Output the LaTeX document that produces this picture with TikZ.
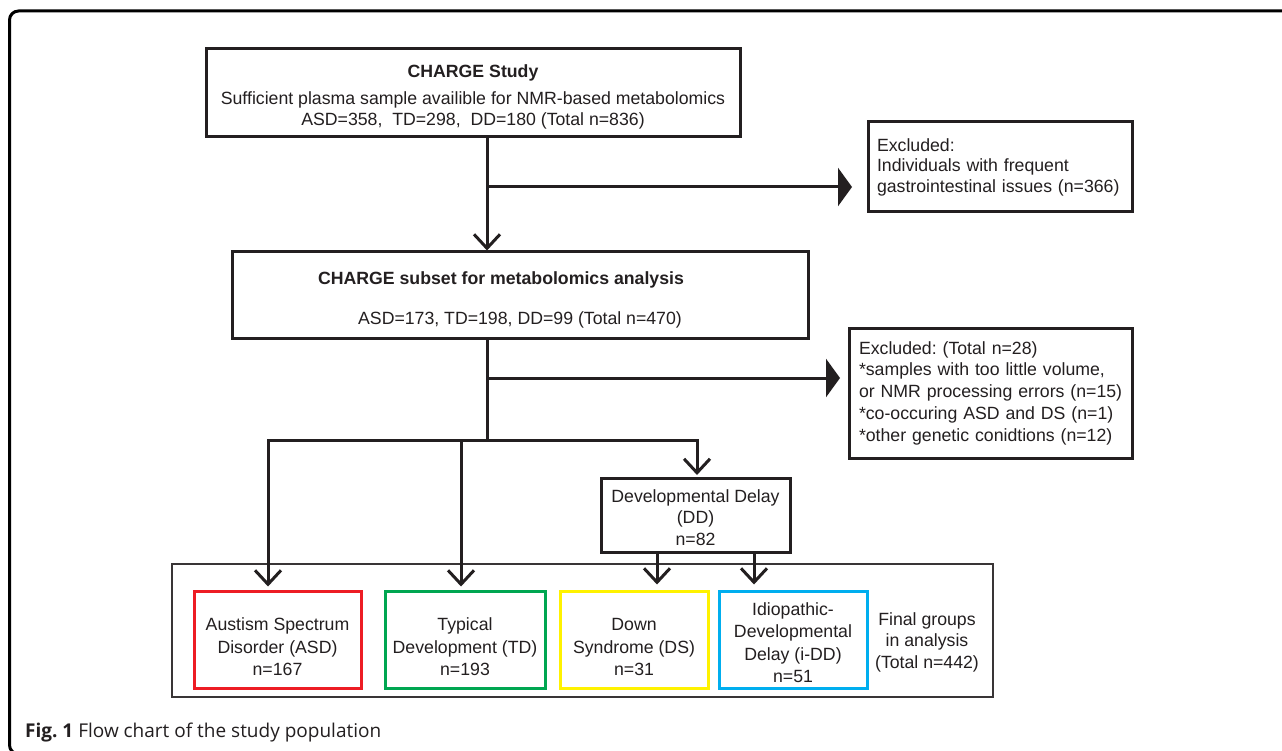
\documentclass[tikz,border=0pt]{standalone}
\usepackage{fontspec}
\setmainfont{Liberation Sans}
\newfontfamily\capfont{Open Sans}
\usetikzlibrary{arrows.meta}
\definecolor{ink}{HTML}{231F20}
\definecolor{cred}{HTML}{ED1C24}
\definecolor{cgreen}{HTML}{00A651}
\definecolor{cyellow}{HTML}{FFF200}
\definecolor{cblue}{HTML}{00AEEF}
\frenchspacing
\newcommand{\upstrut}[1]{\rule{0pt}{#1}}
\begin{document}
\begin{tikzpicture}[x=1pt,y=-1pt,
  every node/.style={font=\fontsize{17.7pt}{21.5pt}\selectfont, text=ink},
  ln/.style={draw=ink, line width=3pt},
  openarr/.style={ln, -{Straight Barb[length=14pt,width=26pt]}},
  fillarr/.style={ln, -{Triangle[length=14pt,width=38pt]}},
  bx/.style={draw=ink, line width=3pt, rectangle, inner sep=0pt, align=center},
  cbx/.style={draw=#1, line width=3pt, rectangle, inner sep=0pt, align=center, minimum height=97pt,
    font=\fontsize{17.7pt}{22.5pt}\selectfont},
  exbx/.style={draw=ink, line width=3pt, rectangle, inner ysep=0pt, align=left}
]
\useasboundingbox (0,0) rectangle (1282,751);
\fill[white] (0,0) rectangle (1282,751);
\begin{scope}
\clip (0,0) rectangle (1282,751);
\draw[line width=3pt, rounded corners=9pt] (9.5,11) rectangle (1320,754);
\end{scope}

% container
\node[draw=ink!90, line width=2pt, rectangle, minimum width=821pt, minimum height=133pt] (ct) at (582.5,630.5) {};

% main boxes
\node[bx, minimum width=534pt, minimum height=88pt] (b1) at (473,93)
  {\upstrut{21pt}\textbf{CHARGE Study}\\[5.5pt]Sufficient plasma sample availible for NMR-based metabolomics\\ASD=358,\ \ TD=298,\ \ DD=180 (Total n=836)};
\node[bx, minimum width=576pt, minimum height=86pt] (b2) at (520,295)
  {\upstrut{23pt}\textbf{CHARGE subset for metabolomics analysis}\hspace*{38pt}\\[19pt]ASD=173, TD=198, DD=99 (Total n=470)};

\node[exbx, text width=246pt, inner xsep=9pt, minimum height=90pt,
  font=\fontsize{17.7pt}{20.5pt}\selectfont] (ex1) at (1000,167)
  {\mbox{Excluded:}\\\mbox{Individuals with frequent}\\\mbox{gastrointestinal issues (n=366)}};
\node[exbx, text width=263pt, inner xsep=10pt, minimum height=130pt,
  font=\fontsize{17.7pt}{21.75pt}\selectfont] (ex2) at (990.5,393)
  {\mbox{Excluded: (Total n=28)}\\\mbox{{*}samples with too little volume,}\\\mbox{or NMR processing errors (n=15)}\\\mbox{{*}co-occuring ASD and DS (n=1)}\\\mbox{{*}other genetic conidtions (n=12)}};

\node[bx, minimum width=189pt, minimum height=74pt] (dd) at (695.5,515)
  {\upstrut{18pt}Developmental Delay\\(DD)\\n=82};

% final groups
\node[cbx=cred, minimum width=167pt] (asd) at (277.5,639.5) {\upstrut{28pt}Austism Spectrum\\Disorder (ASD)\\n=167};
\node[cbx=cgreen, minimum width=160pt] (td) at (465,639.5) {\upstrut{28pt}Typical\\Development (TD)\\n=193};
\node[cbx=cyellow, minimum width=148pt] (ds) at (634,639.5) {\upstrut{28pt}Down\\Syndrome (DS)\\n=31};
\node[cbx=cblue, minimum width=148pt] (idd) at (793,639.5) {\upstrut{19pt}Idiopathic-\\Developmental\\Delay (i-DD)\\n=51};
\node[align=center, inner sep=0pt] (fin) at (927,642) {Final groups\\in analysis\\(Total n=442)};

% connectors
\coordinate (v) at (487,0);
\draw[openarr] (b1.south -| v) -- (b2.north -| v);
\coordinate (j1) at (487,187);
\coordinate (t1) at (852,187);
\draw[fillarr] (j1) -- (t1);
\coordinate (j2) at (487,440);
\draw[ln] (b2.south -| v) -- (j2);
\coordinate (j3) at (487,378);
\coordinate (t2) at (840,378);
\draw[fillarr] (j3) -- (t2);

\coordinate (h1) at (268,440);
\coordinate (h2) at (461,440);
\coordinate (h3) at (697,440);
\draw[ln, line cap=rect] (h1) -- (h3);
\draw[openarr, shorten >=3pt] (h1) -- (h1 |- asd.north);
\draw[openarr, shorten >=3pt] (h2) -- (h2 |- td.north);
\draw[openarr, shorten >=1.5pt] (h3) -- (dd.north -| h3);
\coordinate (d1) at (657,0);
\coordinate (d2) at (754,0);
\draw[openarr, shorten >=5pt] (dd.south -| d1) -- (ds.north -| d1);
\draw[openarr, shorten >=5pt] (dd.south -| d2) -- (idd.north -| d2);

% caption
\node[anchor=base west, inner sep=0pt, font=\capfont\fontsize{19pt}{21pt}\selectfont] (cap) at (25,737)
  {\textbf{Fig. 1} Flow chart of the study population};
\end{tikzpicture}
\end{document}
